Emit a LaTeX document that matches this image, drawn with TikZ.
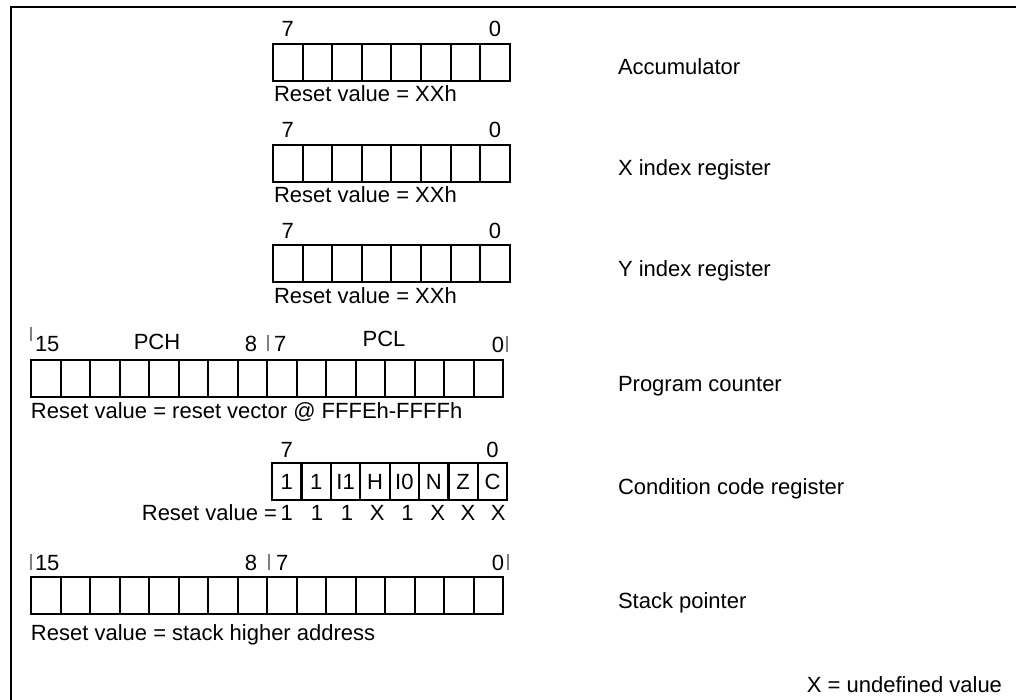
\documentclass[tikz,border=0pt]{standalone}
\usepackage{fontspec}
\setmainfont{Liberation Sans}
\begin{document}
\begin{tikzpicture}[x=0.5pt,y=-0.5pt,
  every node/.style={font=\fontsize{11}{13}\selectfont, inner sep=0pt, outer sep=0pt},
  cell/.style={draw, line width=1pt, minimum width=14.8pt, minimum height=18.5pt, anchor=north west},
  wcell/.style={cell, minimum width=14.75pt},
  lbl/.style={anchor=base},
  lblw/.style={anchor=base west},
  tickline/.style={draw=gray, line width=0.7pt},
  frameline/.style={draw, line width=0.8pt}]
\useasboundingbox (0,0) rectangle (1016,700);
% frame
\coordinate (ftl) at (11,7);
\coordinate (ftr) at (1016,7);
\coordinate (fbl) at (11,700);
\draw[frameline] (ftr) -- (ftl) -- (fbl);

% ---- 8-bit registers
\foreach \nm/\t/\lab in {acc/44/Accumulator, xr/145/X index register, yr/245/Y index register}{
  \foreach \i in {0,...,7}
    \node[cell] (\nm\i) at ({273+29.6*\i},\t) {};
  \node[lbl] (\nm hi) at ({273+14.8},{\t-7}) {7};
  \node[lbl] (\nm lo) at ({273+29.6*7+14.8},{\t-7}) {0};
  \node[lblw] (\nm rst) at (274,{\t+37+21}) {Reset value = XXh};
  \node[lblw] (\nm name) at (618,{\t+31}) {\lab};
}

% ---- Program counter
\foreach \i in {0,...,15}
  \node[wcell] (pc\i) at ({31+29.5*\i},360) {};
\draw[tickline] (31,327) -- (31,341);
\node[lblw] (pc15) at (35,351) {15};
\node[lbl] (pch) at (157,349) {PCH};
\node[lbl] (pc8) at (251,351) {8};
\draw[tickline] (268,335) -- (268,351);
\node[lblw] (pc7) at (274,351) {7};
\node[lbl] (pcl) at (384,346) {PCL};
\node[lbl] (pc0) at (498,352) {0};
\draw[tickline] (507,336) -- (507,352);
\node[lblw] (pcrst) at (31,418) {Reset value = reset vector @ FFFEh-FFFFh};
\node[lblw] (pcname) at (618,{360+31}) {Program counter};

% ---- Condition code register
\foreach \t [count=\i from 0] in {1,1,I1,H,I0,N,Z,C}
  \node[cell] (ccr\i) at ({272+29.4*\i},463) {\t};
\node[lbl] (ccrhi) at ({272+14.7},457) {7};
\node[lbl] (ccrlo) at ({272+29.4*7+14.7},457) {0};
\node[anchor=base east] (ccrrst) at (277,520) {Reset value =};
\foreach \v [count=\i from 0] in {1,1,1,X,1,X,X,X}
  \node[lbl] (ccrv\i) at ({272+14.7+29.4*\i+0.8*\i},520) {\v};
\node[lblw] (ccrname) at (618,{463+31}) {Condition code register};

% ---- Stack pointer
\foreach \i in {0,...,15}
  \node[wcell] (sp\i) at ({31+29.5*\i},577) {};
\draw[tickline] (31,554) -- (31,570);
\node[lblw] (sp15) at (35,570) {15};
\node[lbl] (sp8) at (251,570) {8};
\draw[tickline] (269,554) -- (269,570);
\node[lblw] (sp7) at (276,570) {7};
\node[anchor=base east] (sp0) at (504,570) {0};
\draw[tickline] (508,554) -- (508,570);
\node[lblw] (sprst) at (31,640) {Reset value = stack higher address};
\node[lblw] (spname) at (618,{577+31}) {Stack pointer};

% ---- note
\node[anchor=base east] (note) at (1002,692) {X = undefined value};
\end{tikzpicture}
\end{document}
